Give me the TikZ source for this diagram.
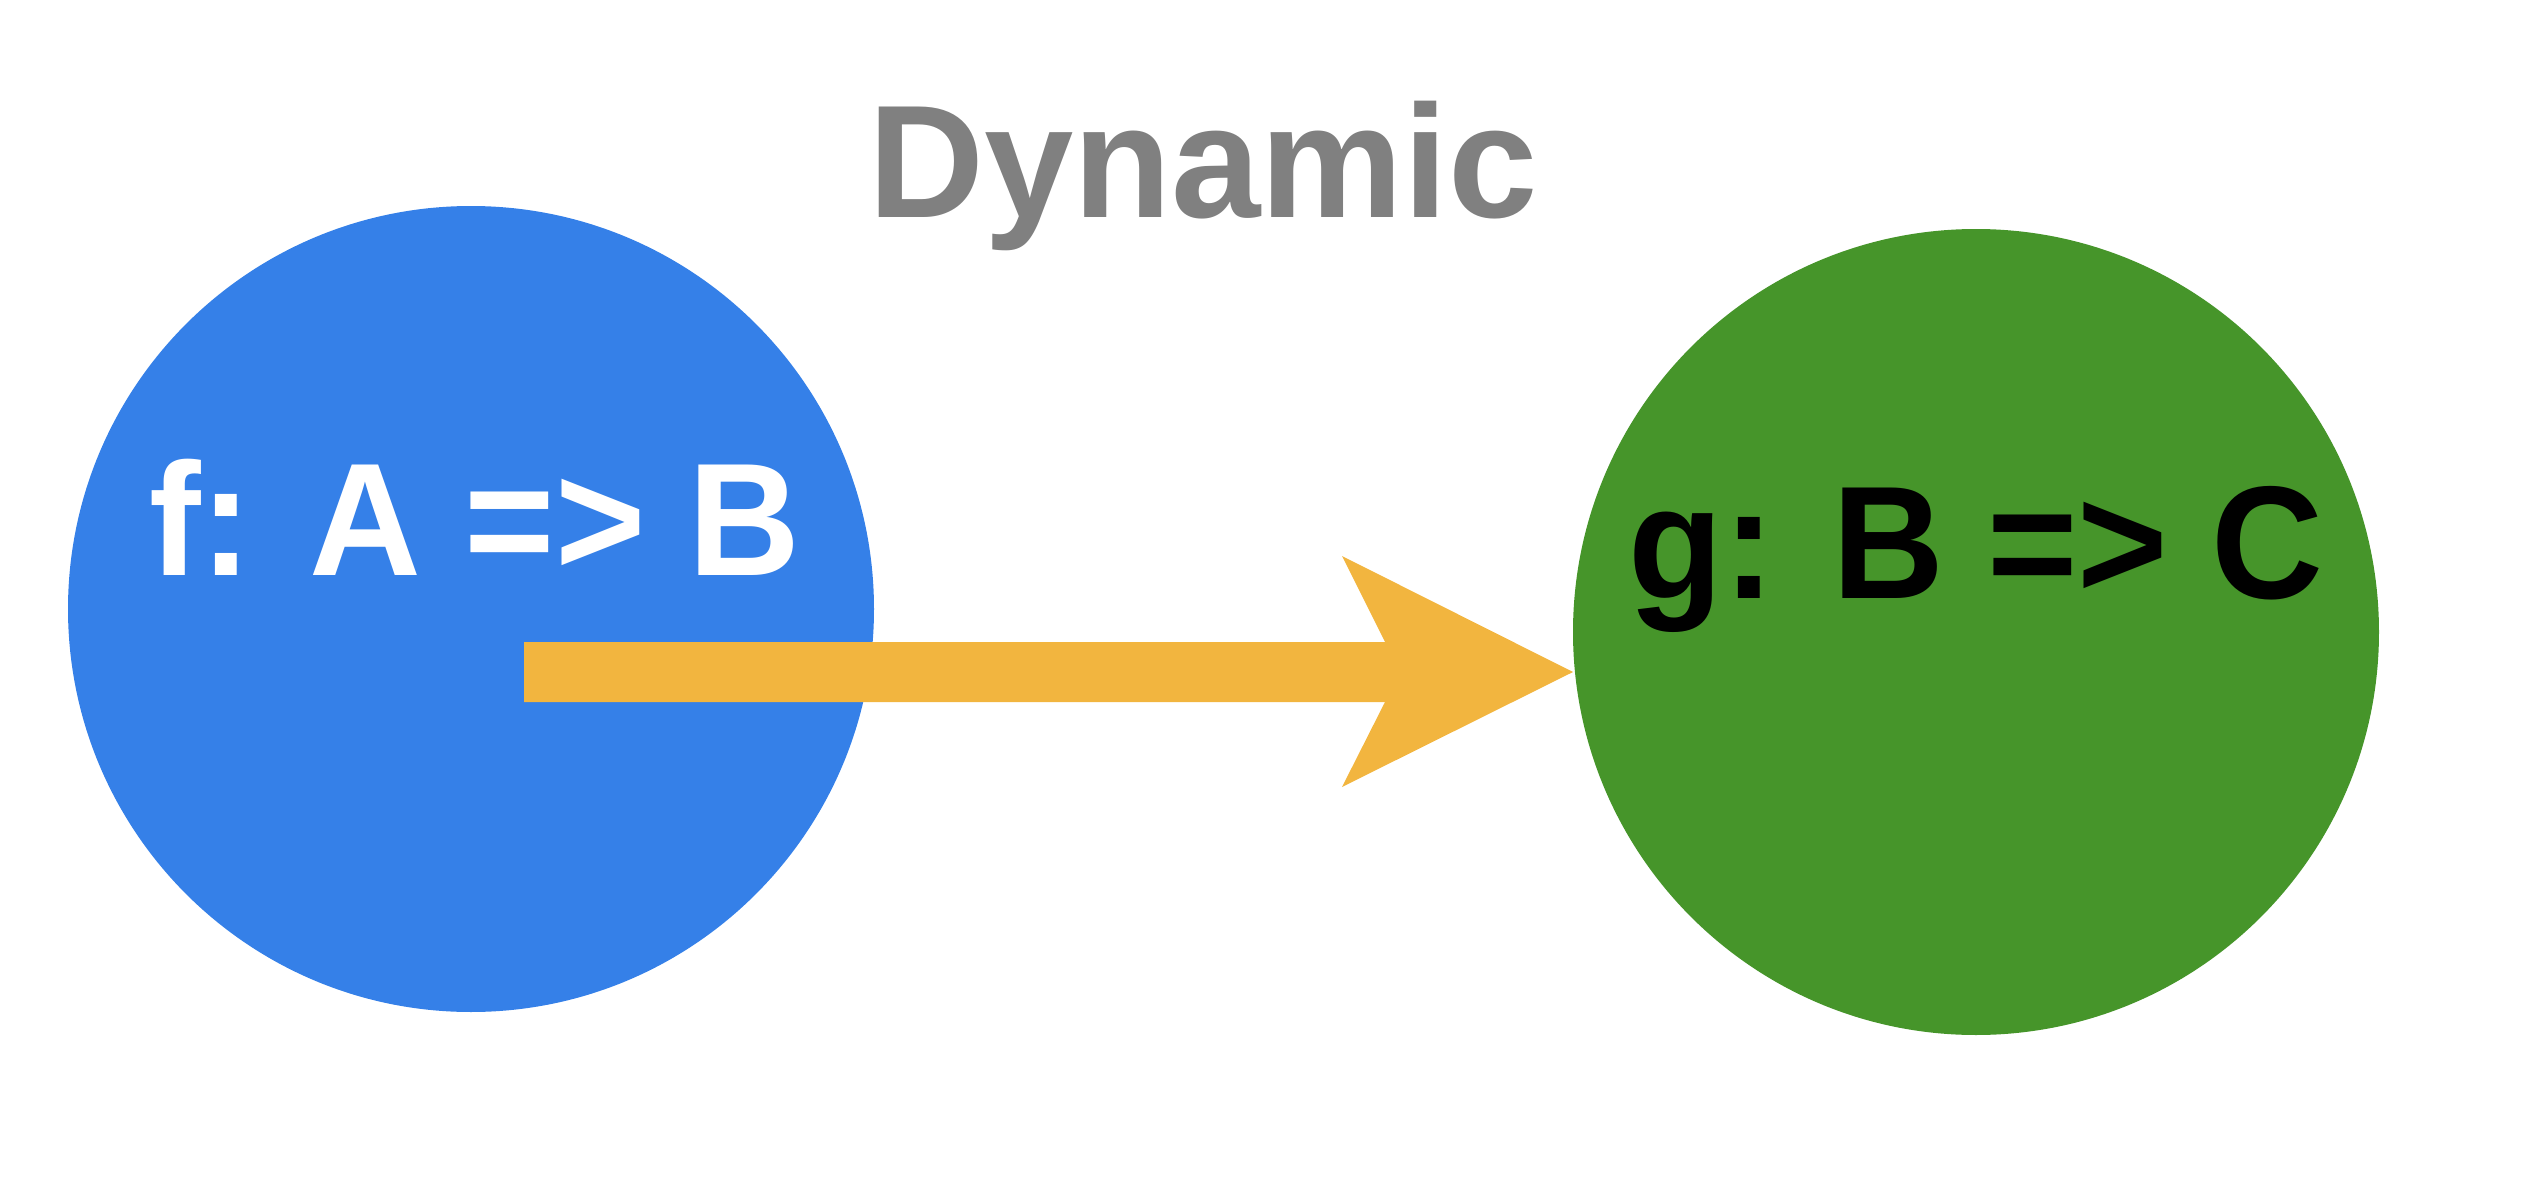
\documentclass[tikz,border=0pt]{standalone}
\usepackage{fontspec}
\setmainfont{Liberation Sans}
\newfontfamily\narrowfont[FakeStretch=0.965]{Liberation Sans}
\usetikzlibrary{calc}

\definecolor{fblue}{RGB}{53,128,232}
\definecolor{ggreen}{RGB}{70,149,42}
\definecolor{arrowyellow}{RGB}{242,181,63}
\definecolor{titlegray}{RGB}{128,128,128}

\begin{document}
\begin{tikzpicture}[
    ball/.style={circle, minimum size=8.06cm, inner sep=0pt},
    bigtext/.style={anchor=base, inner sep=0pt, font=\fontsize{45.7}{54}\selectfont\bfseries},
    maptext/.style={bigtext, font=\fontsize{45.7}{54}\narrowfont\bfseries}
  ]
    \useasboundingbox (0,0) rectangle (25.30,-11.98);

    % Funzioni
    \node[ball, fill=fblue] (fnode) at (4.71,-6.09) {};
    \node[ball, fill=ggreen] (gnode) at (19.76,-6.32) {};

    % Freccia
    \coordinate (tail) at (5.24,-6.72);
    \coordinate (tip) at (15.73,-6.72);
    \fill[arrowyellow] ($(tail)+(0,0.30)$) -- ($(tip)+(-1.88,0.30)$) -- ($(tip)+(-2.31,1.16)$)
        -- (tip) -- ($(tip)+(-2.31,-1.15)$) -- ($(tip)+(-1.88,-0.30)$) -- ($(tail)+(0,-0.30)$) -- cycle;

    % Testi
    \node[bigtext, text=titlegray] (title) at (12.03,-2.17) {Dynamic};
    \node[maptext, text=white] (flabel) at (4.75,-5.75) {f: A => B};
    \node[maptext, text=black] (glabel) at (19.76,-5.98) {g: B => C};
\end{tikzpicture}
\end{document}
